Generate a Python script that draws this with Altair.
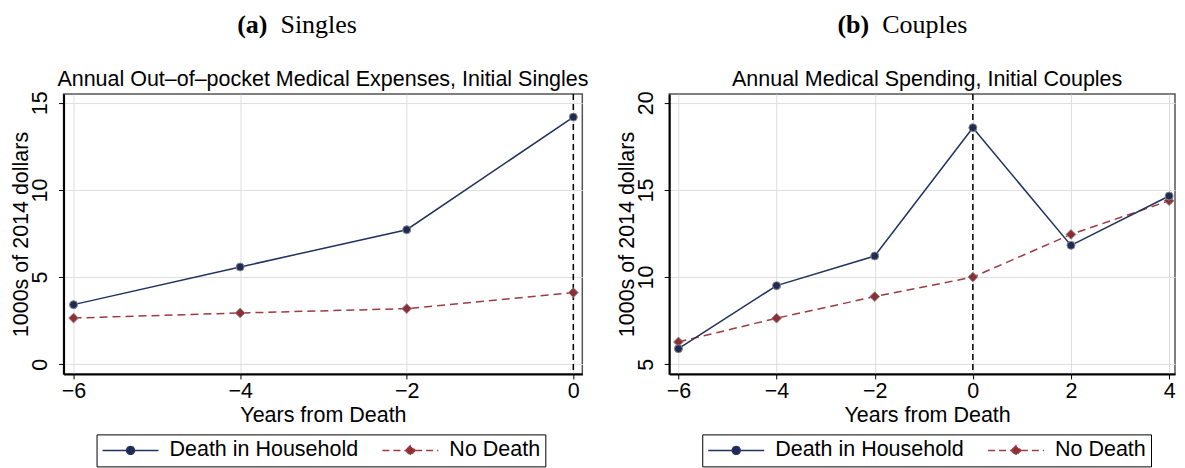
import altair as alt
import pandas as pd

FONT = "Liberation Sans"
SERIF = "Liberation Serif"

# ---------------- data ----------------
series_names = ["Death in Household", "No Death"]

singles_years = [-6, -4, -2, 0]
singles_death = [3.42, 5.58, 7.72, 14.18]
singles_nodeath = [2.65, 2.94, 3.19, 4.11]

couples_years = [-6, -4, -2, 0, 2, 4]
couples_death = [5.89, 9.51, 11.21, 18.57, 11.82, 14.65]
couples_nodeath = [6.28, 7.64, 8.88, 10.00, 12.45, 14.38]

singles_xticks = [-6, -4, -2, 0]
singles_yticks = [0, 5, 10, 15]
couples_xticks = [-6, -4, -2, 0, 2, 4]
couples_yticks = [5, 10, 15, 20]

event_year = [0]

panel_letters = ["(a)", "(b)"]
panel_names = ["Singles", "Couples"]
panel_titles = [
    "Annual Out\u2013of\u2013pocket Medical Expenses, Initial Singles",
    "Annual Medical Spending, Initial Couples",
]
x_title = "Years from Death"
y_title = "1000s of 2014 dollars"

# ---------------- styles ----------------
NAVY_LINE = "#22325f"
NAVY_FILL = "#1d2b55"
RED_LINE = "#9b3b42"
RED_FILL = "#8e2f35"
MARKER_EDGE = "#8c8c8c"
H = 280
FS = 21.5

PATH_CIRCLE = ("M-1,0H-0.14M0.14,0H1"
               "M-0.14,0A0.14,0.14,0,1,1,0.14,0A0.14,0.14,0,1,1,-0.14,0Z")
PATH_DIAMOND = ("M-1,0H-0.17M0.17,0H1"
                "M-0.17,0L0,-0.17L0.17,0L0,0.17Z")


def panel(years, death, nodeath, xdom, ydom, xticks, yticks, width, idx, center, cap_x):
    df = pd.DataFrame({"year": years, "death": death, "nodeath": nodeath})

    xenc = alt.X(
        "year:Q",
        scale=alt.Scale(domain=xdom, nice=False, zero=False),
        axis=alt.Axis(
            values=xticks, title=x_title, grid=True,
            labelAngle=0, labelBaseline="alphabetic", labelPadding=18.5,
            titleX=center, titleY=47.5, titleAlign="center",
            titleBaseline="alphabetic",
        ),
    )

    def yenc(field):
        return alt.Y(
            f"{field}:Q",
            scale=alt.Scale(domain=ydom, nice=False, zero=False),
            axis=alt.Axis(
                values=yticks, title=y_title, grid=True,
                labelAngle=-90, labelAlign="center", labelBaseline="alphabetic",
                labelPadding=12,
                titleX=-36, titleY=H / 2, titleAngle=-90, titleAlign="center",
                titleBaseline="alphabetic",
            ),
        )

    base = alt.Chart(df)

    rule = alt.Chart(pd.DataFrame({"year": event_year})).mark_rule(
        color="black", strokeWidth=1.5, strokeDash=[6, 4]
    ).encode(x=xenc)

    line_d = base.mark_line(color=NAVY_LINE, strokeWidth=1.5).encode(x=xenc, y=yenc("death"))
    line_n = base.mark_line(color=RED_LINE, strokeWidth=1.5, strokeDash=[8, 5]).encode(
        x=xenc, y=yenc("nodeath"))
    pts_d = base.mark_point(filled=True, shape="circle", size=64, color=NAVY_FILL,
                            stroke=MARKER_EDGE, strokeWidth=1, opacity=1).encode(
        x=xenc, y=yenc("death"))
    pts_n = base.mark_point(filled=True, shape="diamond", size=95, color=RED_FILL,
                            stroke=MARKER_EDGE, strokeWidth=1, opacity=1).encode(
        x=xenc, y=yenc("nodeath"))

    leg = alt.Legend(
        orient="none", legendX=33, legendY=340.5, direction="horizontal",
        title=None, strokeColor="black", padding=5,
        labelFont=FONT, labelFontSize=FS, labelColor="black", labelLimit=400,
        symbolSize=3136, clipHeight=22, columnPadding=23, labelOffset=10,
        symbolStrokeWidth=1.5,
    )
    legend_df = pd.DataFrame({"series": series_names})
    legend_layer = alt.Chart(legend_df).mark_point(filled=True, strokeWidth=1.5, opacity=1).encode(
        x=xenc,
        y=yenc("death"),
        fill=alt.Fill("series:N", scale=alt.Scale(domain=series_names, range=[NAVY_FILL, RED_FILL]),
                      legend=leg),
        stroke=alt.Stroke("series:N", scale=alt.Scale(domain=series_names, range=[NAVY_LINE, RED_LINE]),
                          legend=leg),
        shape=alt.Shape("series:N", scale=alt.Scale(domain=series_names,
                                                     range=[PATH_CIRCLE, PATH_DIAMOND]),
                        legend=leg),
        strokeDash=alt.StrokeDash("series:N", scale=alt.Scale(domain=series_names,
                                                              range=[[1, 0], [7, 4]]),
                                  legend=leg),
    ).transform_filter("false")

    title_txt = alt.Chart(pd.DataFrame({"t": [panel_titles[idx]]})).mark_text(
        font=FONT, fontSize=FS, align="center", baseline="alphabetic", color="black"
    ).encode(x=alt.value(center), y=alt.value(-8.5), text="t:N")

    letter_txt = alt.Chart(pd.DataFrame({"t": [panel_letters[idx]]})).mark_text(
        font=SERIF, fontSize=26, fontWeight="bold", align="right", baseline="alphabetic",
        color="black"
    ).encode(x=alt.value(cap_x), y=alt.value(-61), text="t:N")

    name_txt = alt.Chart(pd.DataFrame({"t": [panel_names[idx]]})).mark_text(
        font=SERIF, fontSize=26, align="left", baseline="alphabetic", color="black"
    ).encode(x=alt.value(cap_x + 13), y=alt.value(-61), text="t:N")

    return alt.layer(rule, line_n, line_d, pts_n, pts_d, legend_layer,
                     title_txt, letter_txt, name_txt).properties(width=width, height=H)


left = panel(singles_years, singles_death, singles_nodeath, [-6.12, 0.108], [-0.556, 15.5],
             singles_xticks, singles_yticks, 519, 0, 259.5, 204)
right = panel(couples_years, couples_death, couples_nodeath, [-6.187, 4.12], [4.444, 20.5],
              couples_xticks, couples_yticks, 506, 1, 258, 200)

chart = alt.hconcat(left, right, spacing=87, bounds="flush").properties(
    padding={"left": 1.6, "top": 3, "right": 0, "bottom": 0}
).resolve_scale(
    fill="independent", stroke="independent", shape="independent", strokeDash="independent"
).resolve_legend(
    fill="independent", stroke="independent", shape="independent", strokeDash="independent"
).configure_view(
    stroke="#555555", strokeWidth=1.5
).configure_axis(
    labelFont=FONT, labelFontSize=FS, labelColor="black",
    titleFont=FONT, titleFontSize=FS, titleColor="black", titleFontWeight="normal",
    domainColor="black", domainWidth=2, tickColor="black", tickSize=5, tickWidth=1,
    gridColor="#dedede", gridWidth=1,
)

chart.save("out.html", embed_options={"renderer": "svg", "actions": False})
